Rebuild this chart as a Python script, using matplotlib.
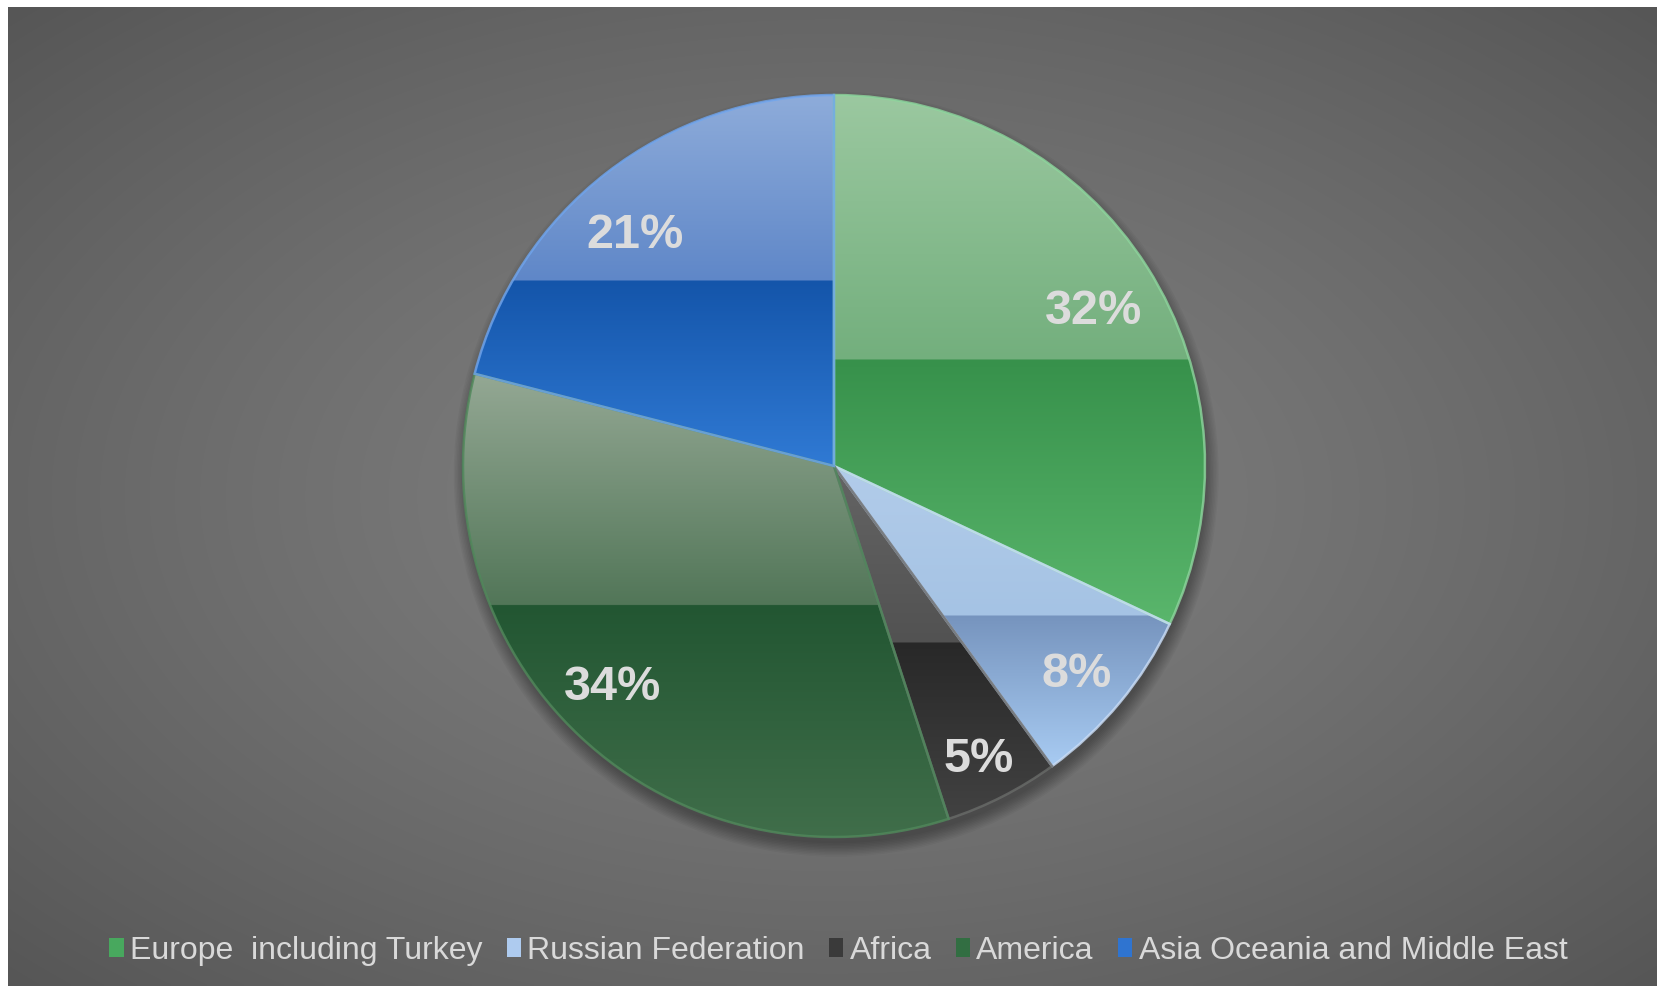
import numpy as np
import matplotlib
matplotlib.use('Agg')
import matplotlib.pyplot as plt
import matplotlib.patches as mpatches

# data
regions = ['Europe  including Turkey', 'Russian Federation', 'Africa', 'America',
           'Asia Oceania and Middle East']
shares = [32, 8, 5, 34, 21]

# gradient stops per slice: top of gloss, bottom of gloss, top of base, bottom of base
grad = [
    [(155, 200, 160), (115, 175, 125), (55, 145, 75), (90, 182, 108)],
    [(178, 204, 234), (165, 195, 228), (118, 148, 190), (168, 203, 242)],
    [(100, 100, 100), (82, 82, 82), (40, 40, 40), (66, 66, 66)],
    [(148, 168, 148), (82, 118, 88), (34, 86, 50), (64, 110, 74)],
    [(142, 172, 218), (95, 135, 200), (20, 85, 170), (48, 122, 212)],
]
edge_cols = ['#8fd69c', '#c8defa', '#6a6a6a', '#4e8a5c', '#6fa6ee']
legend_cols = ['#48a85e', '#aecbef', '#3a3a3a', '#326e42', '#2f74d0']
label_dist = [0.82, 0.855, 0.87, 0.837, 0.831]
label_turn = [0.8, 0.4, 0.4, 2.4, -2.5]  # degrees clockwise from mid angle

W, H = 1657, 986
fig = plt.figure(figsize=(W / 100, H / 100), dpi=100)
fig.patch.set_facecolor('white')

# background radial gradient
bg = fig.add_axes([8 / W, 0, 1 - 8 / W, 1 - 7 / H])
yy, xx = np.mgrid[0:1:300j, 0:1:500j]
d = np.sqrt(((xx - 0.5) / 0.5) ** 2 + ((yy - 0.5) / 0.5) ** 2) / np.sqrt(2)
g = 128 - 42 * d ** 1.3
bg.imshow(np.dstack([g, g, g]) / 255, aspect='auto', extent=(0, 1, 0, 1),
          interpolation='bilinear')
bg.set_axis_off()

# pie axes
R, cx, cy = 371, 834, 466
m = 1.1
s = 2 * R * m
ax = fig.add_axes([(cx - R * m) / W, (H - cy - R * m) / H, s / W, s / H])
ax.set_axis_off()

# soft shadow
for k in range(10):
    ax.add_patch(mpatches.Circle((0.006, -0.022), 0.995 + 0.004 * k, color='black',
                                 alpha=0.035, lw=0, zorder=0))

wedges, _, autotexts = ax.pie(shares, startangle=90, counterclock=False,
                              autopct='%1.0f%%', pctdistance=0.84,
                              wedgeprops=dict(linewidth=0))

for i, w in enumerate(wedges):
    w.set_zorder(1)
    ext = w.get_path().get_extents()
    n = 400
    t = np.linspace(0, 1, n)
    img = np.zeros((n, 2, 3))
    c0, c1, c2, c3 = [np.array(c) / 255 for c in grad[i]]
    for j, tv in enumerate(t):
        if tv < 0.5:
            c = c0 + (c1 - c0) * (tv / 0.5)
        else:
            c = c2 + (c3 - c2) * ((tv - 0.5) / 0.5)
        img[j, :, :] = c
    im = ax.imshow(img, extent=(ext.x0, ext.x1, ext.y0, ext.y1), origin='upper',
                   aspect='auto', interpolation='bilinear', zorder=2)
    im.set_clip_path(w)
    ax.add_patch(mpatches.Wedge(w.center, w.r, w.theta1, w.theta2, fill=False,
                                ec=edge_cols[i], lw=1.8, alpha=0.8, zorder=3))

    # label placement near mid angle
    mid = np.deg2rad((w.theta1 + w.theta2) / 2 - label_turn[i])
    txt = autotexts[i]
    txt.set_position((label_dist[i] * np.cos(mid), label_dist[i] * np.sin(mid) - 0.012))
    txt.set_color('#dcdcdc')
    txt.set_fontsize(35)
    txt.set_fontweight('bold')
    txt.set_fontfamily('Liberation Sans')
    txt.set_zorder(5)

ax.set_xlim(-m, m)
ax.set_ylim(-m, m)
ax.set_aspect('equal')

handles = [mpatches.Patch(facecolor=c, edgecolor='none') for c in legend_cols]
leg = fig.legend(handles, regions, loc='center', bbox_to_anchor=(0.506, 0.036),
                 ncol=5, frameon=False, handlelength=0.45, handleheight=0.55,
                 handletextpad=0.2, columnspacing=0.75,
                 prop={'family': 'Liberation Sans', 'size': 23})
for txt in leg.get_texts():
    txt.set_color('#d9d9d9')

fig.savefig('out.png', dpi=100)
